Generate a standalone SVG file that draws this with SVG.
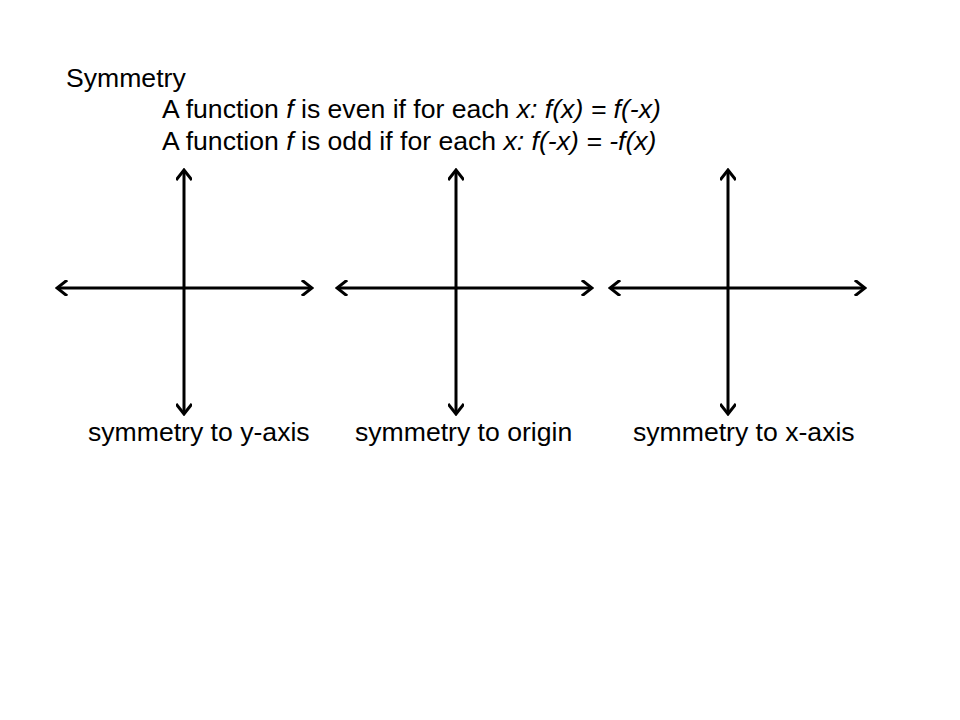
<svg xmlns="http://www.w3.org/2000/svg" width="960" height="720" viewBox="0 0 960 720">
<defs>
<marker id="chev" viewBox="-12 -8 14 16" markerWidth="14" markerHeight="16" refX="0" refY="0" markerUnits="userSpaceOnUse" orient="auto-start-reverse">
<path d="M-9,-7 L0,0 L-9,7" fill="none" stroke="#000" stroke-width="3" stroke-linecap="square" stroke-linejoin="miter"/>
</marker>
</defs>
<style>
.ax{stroke:#000;stroke-width:3;fill:none;marker-start:url(#chev);marker-end:url(#chev)}
text{font-family:"Liberation Sans",Arial,sans-serif;font-size:26.6px;fill:#000}
.i{font-style:italic}
</style>
<rect width="960" height="720" fill="#fff"/>
<g id="title">
<text x="66" y="87">Symmetry</text>
<text x="162" y="118">A function <tspan class="i">f</tspan> is even if for each <tspan class="i">x: f(x) = f(-x)</tspan></text>
<text x="162" y="150">A function <tspan class="i">f</tspan> is odd if for each <tspan class="i">x: f(-x) = -f(x)</tspan></text>
</g>
<g id="connectors">
<line class="ax" x1="57" y1="288" x2="312" y2="288"/>
<line class="ax" x1="184" y1="170" x2="184" y2="414"/>
<line class="ax" x1="337" y1="288" x2="592" y2="288"/>
<line class="ax" x1="456" y1="170" x2="456" y2="414"/>
<line class="ax" x1="610" y1="288" x2="865" y2="288"/>
<line class="ax" x1="728" y1="170" x2="728" y2="414"/>
</g>
<g id="label-y-axis"><text x="88" y="441">symmetry to y-axis</text></g>
<g id="label-origin"><text x="355" y="441">symmetry to origin</text></g>
<g id="label-x-axis"><text x="633" y="441">symmetry to x-axis</text></g>
</svg>
